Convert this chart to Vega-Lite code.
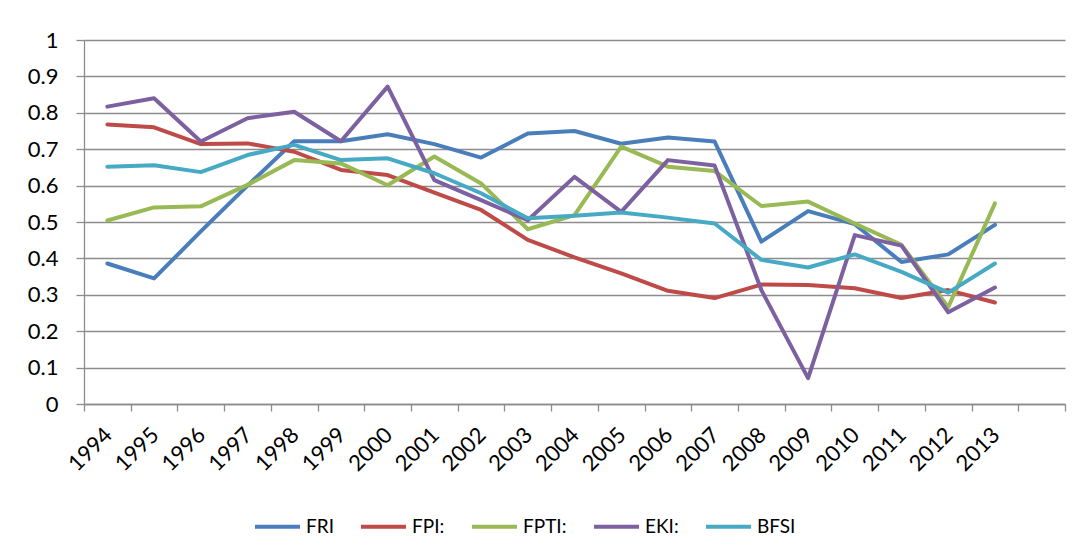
{
  "$schema": "https://vega.github.io/schema/vega-lite/v6.json",
  "width": 981,
  "height": 364,
  "autosize": {"type": "none"},
  "padding": {"left": 84, "top": 40, "right": 19, "bottom": 156},
  "background": "white",
  "config": {
    "font": "Lato",
    "view": {"stroke": null},
    "axis": {"labelFont": "Lato", "labelColor": "#000000", "labelFontSize": 22, "domainColor": "#8c8c8c", "tickColor": "#8c8c8c", "gridColor": "#8c8c8c", "domainWidth": 1.3, "tickWidth": 1.3, "gridWidth": 1.3}
  },
  "data": {
    "values": [
      {"year": 1994, "series": "FRI", "value": 0.386},
      {"year": 1995, "series": "FRI", "value": 0.345},
      {"year": 1996, "series": "FRI", "value": 0.474},
      {"year": 1997, "series": "FRI", "value": 0.600},
      {"year": 1998, "series": "FRI", "value": 0.722},
      {"year": 1999, "series": "FRI", "value": 0.722},
      {"year": 2000, "series": "FRI", "value": 0.741},
      {"year": 2001, "series": "FRI", "value": 0.714},
      {"year": 2002, "series": "FRI", "value": 0.677},
      {"year": 2003, "series": "FRI", "value": 0.743},
      {"year": 2004, "series": "FRI", "value": 0.750},
      {"year": 2005, "series": "FRI", "value": 0.715},
      {"year": 2006, "series": "FRI", "value": 0.732},
      {"year": 2007, "series": "FRI", "value": 0.721},
      {"year": 2008, "series": "FRI", "value": 0.446},
      {"year": 2009, "series": "FRI", "value": 0.530},
      {"year": 2010, "series": "FRI", "value": 0.494},
      {"year": 2011, "series": "FRI", "value": 0.390},
      {"year": 2012, "series": "FRI", "value": 0.411},
      {"year": 2013, "series": "FRI", "value": 0.492},
      {"year": 1994, "series": "FPI:", "value": 0.768},
      {"year": 1995, "series": "FPI:", "value": 0.760},
      {"year": 1996, "series": "FPI:", "value": 0.714},
      {"year": 1997, "series": "FPI:", "value": 0.716},
      {"year": 1998, "series": "FPI:", "value": 0.693},
      {"year": 1999, "series": "FPI:", "value": 0.643},
      {"year": 2000, "series": "FPI:", "value": 0.629},
      {"year": 2001, "series": "FPI:", "value": 0.581},
      {"year": 2002, "series": "FPI:", "value": 0.533},
      {"year": 2003, "series": "FPI:", "value": 0.451},
      {"year": 2004, "series": "FPI:", "value": 0.403},
      {"year": 2005, "series": "FPI:", "value": 0.359},
      {"year": 2006, "series": "FPI:", "value": 0.311},
      {"year": 2007, "series": "FPI:", "value": 0.291},
      {"year": 2008, "series": "FPI:", "value": 0.328},
      {"year": 2009, "series": "FPI:", "value": 0.327},
      {"year": 2010, "series": "FPI:", "value": 0.318},
      {"year": 2011, "series": "FPI:", "value": 0.291},
      {"year": 2012, "series": "FPI:", "value": 0.313},
      {"year": 2013, "series": "FPI:", "value": 0.279},
      {"year": 1994, "series": "FPTI:", "value": 0.504},
      {"year": 1995, "series": "FPTI:", "value": 0.540},
      {"year": 1996, "series": "FPTI:", "value": 0.543},
      {"year": 1997, "series": "FPTI:", "value": 0.602},
      {"year": 1998, "series": "FPTI:", "value": 0.670},
      {"year": 1999, "series": "FPTI:", "value": 0.661},
      {"year": 2000, "series": "FPTI:", "value": 0.601},
      {"year": 2001, "series": "FPTI:", "value": 0.680},
      {"year": 2002, "series": "FPTI:", "value": 0.606},
      {"year": 2003, "series": "FPTI:", "value": 0.480},
      {"year": 2004, "series": "FPTI:", "value": 0.519},
      {"year": 2005, "series": "FPTI:", "value": 0.707},
      {"year": 2006, "series": "FPTI:", "value": 0.652},
      {"year": 2007, "series": "FPTI:", "value": 0.640},
      {"year": 2008, "series": "FPTI:", "value": 0.544},
      {"year": 2009, "series": "FPTI:", "value": 0.556},
      {"year": 2010, "series": "FPTI:", "value": 0.496},
      {"year": 2011, "series": "FPTI:", "value": 0.437},
      {"year": 2012, "series": "FPTI:", "value": 0.266},
      {"year": 2013, "series": "FPTI:", "value": 0.551},
      {"year": 1994, "series": "EKI:", "value": 0.817},
      {"year": 1995, "series": "EKI:", "value": 0.840},
      {"year": 1996, "series": "EKI:", "value": 0.721},
      {"year": 1997, "series": "EKI:", "value": 0.785},
      {"year": 1998, "series": "EKI:", "value": 0.803},
      {"year": 1999, "series": "EKI:", "value": 0.722},
      {"year": 2000, "series": "EKI:", "value": 0.872},
      {"year": 2001, "series": "EKI:", "value": 0.615},
      {"year": 2002, "series": "EKI:", "value": 0.560},
      {"year": 2003, "series": "EKI:", "value": 0.505},
      {"year": 2004, "series": "EKI:", "value": 0.624},
      {"year": 2005, "series": "EKI:", "value": 0.528},
      {"year": 2006, "series": "EKI:", "value": 0.670},
      {"year": 2007, "series": "EKI:", "value": 0.655},
      {"year": 2008, "series": "EKI:", "value": 0.313},
      {"year": 2009, "series": "EKI:", "value": 0.071},
      {"year": 2010, "series": "EKI:", "value": 0.464},
      {"year": 2011, "series": "EKI:", "value": 0.435},
      {"year": 2012, "series": "EKI:", "value": 0.252},
      {"year": 2013, "series": "EKI:", "value": 0.320},
      {"year": 1994, "series": "BFSI", "value": 0.652},
      {"year": 1995, "series": "BFSI", "value": 0.656},
      {"year": 1996, "series": "BFSI", "value": 0.637},
      {"year": 1997, "series": "BFSI", "value": 0.684},
      {"year": 1998, "series": "BFSI", "value": 0.712},
      {"year": 1999, "series": "BFSI", "value": 0.670},
      {"year": 2000, "series": "BFSI", "value": 0.675},
      {"year": 2001, "series": "BFSI", "value": 0.634},
      {"year": 2002, "series": "BFSI", "value": 0.579},
      {"year": 2003, "series": "BFSI", "value": 0.510},
      {"year": 2004, "series": "BFSI", "value": 0.517},
      {"year": 2005, "series": "BFSI", "value": 0.526},
      {"year": 2006, "series": "BFSI", "value": 0.512},
      {"year": 2007, "series": "BFSI", "value": 0.496},
      {"year": 2008, "series": "BFSI", "value": 0.396},
      {"year": 2009, "series": "BFSI", "value": 0.375},
      {"year": 2010, "series": "BFSI", "value": 0.411},
      {"year": 2011, "series": "BFSI", "value": 0.363},
      {"year": 2012, "series": "BFSI", "value": 0.306},
      {"year": 2013, "series": "BFSI", "value": 0.386}
    ]
  },
  "mark": {"type": "line", "strokeWidth": 4, "strokeJoin": "round", "strokeCap": "round"},
  "encoding": {
    "x": {
      "field": "year",
      "type": "quantitative",
      "scale": {"domain": [1993.5, 2014.5], "nice": false, "zero": false},
      "axis": {
        "title": null,
        "values": [1993.5, 1994.5, 1995.5, 1996.5, 1997.5, 1998.5, 1999.5, 2000.5, 2001.5, 2002.5, 2003.5, 2004.5, 2005.5, 2006.5, 2007.5, 2008.5, 2009.5, 2010.5, 2011.5, 2012.5, 2013.5, 2014.5],
        "labelExpr": "datum.value < 2013 ? toString(datum.value + 0.5) : ''",
        "labelAngle": -45,
        "labelAlign": "right",
        "labelBaseline": "middle",
        "labelOffset": 24,
        "labelPadding": 20,
        "tickSize": 7,
        "grid": false,
        "labelOverlap": false,
        "labelBound": false,
        "labelFlush": false
      }
    },
    "y": {
      "field": "value",
      "type": "quantitative",
      "scale": {"domain": [0, 1], "nice": false},
      "axis": {
        "title": null,
        "values": [0, 0.1, 0.2, 0.3, 0.4, 0.5, 0.6, 0.7, 0.8, 0.9, 1],
        "format": ".1~f",
        "tickSize": 8,
        "labelPadding": 18,
        "grid": true
      }
    },
    "color": {
      "field": "series",
      "type": "nominal",
      "sort": null,
      "scale": {"domain": ["FRI", "FPI:", "FPTI:", "EKI:", "BFSI"], "range": ["#4a7ebb", "#be4b48", "#98b954", "#7d60a0", "#46aac5"]},
      "legend": {
        "title": null,
        "orient": "none",
        "direction": "horizontal",
        "legendX": 169,
        "legendY": 462,
        "padding": 0,
        "symbolType": "stroke",
        "symbolSize": 2025,
        "symbolStrokeWidth": 4,
        "labelFont": "Lato",
        "labelFontSize": 19,
        "labelColor": "#000000",
        "labelOffset": 4,
        "columnPadding": 19
      }
    }
  }
}
